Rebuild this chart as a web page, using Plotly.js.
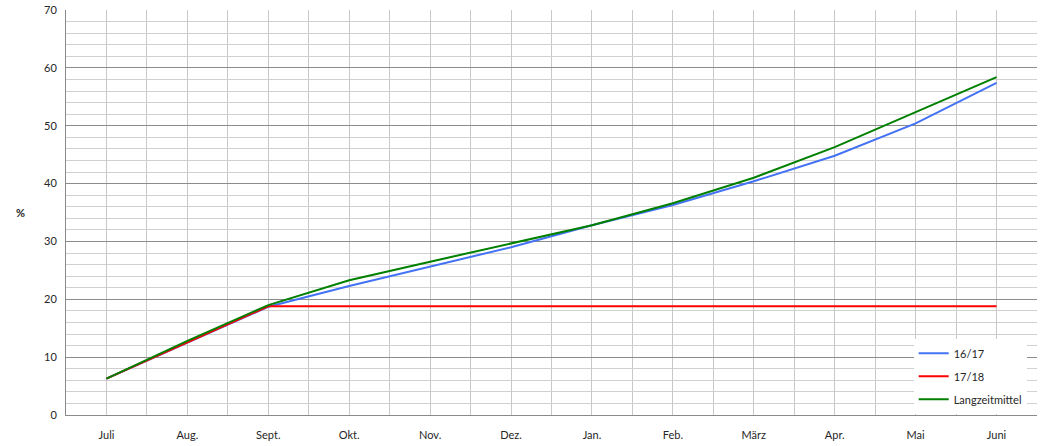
<!DOCTYPE html>
<html>
<head>
<meta charset="utf-8">
<script src="https://cdn.plot.ly/plotly-3.0.1.min.js"></script>
<style>html,body{margin:0;padding:0;background:#fff;}#chart{width:1052px;height:446px;}</style>
</head>
<body>
<div id="chart"></div>
<script>
const months = ["Juli","Aug.","Sept.","Okt.","Nov.","Dez.","Jan.","Feb.","März","Apr.","Mai","Juni"];
const s1617 = [6.3, 12.5, 18.7, 22.3, 25.6, 29.0, 32.8, 36.3, 40.4, 44.8, 50.4, 57.4];
const s1718 = [6.3, 12.5, 18.8, 18.8, 18.8, 18.8, 18.8, 18.8, 18.8, 18.8, 18.8, 18.8];
const langzeit = [6.3, 12.8, 19.0, 23.3, 26.5, 29.6, 32.8, 36.6, 41.0, 46.3, 52.4, 58.4];
const seriesNames = ["16/17","17/18","Langzeitmittel"];
const seriesColors = ["#4472f4","#ff0000","#008000"];

const idx = months.map((m,i)=>i);
const data = [s1617, s1718, langzeit].map((vals,k)=>({
  x: idx, y: vals, type:'scatter', mode:'lines', name: seriesNames[k],
  legendgroup: 'g'+k,
  line:{color: seriesColors[k], width:2}
}));

const font = {family:'Lato, "Open Sans", sans-serif', size:11, color:'#262626'};
const layout = {
  width:1052, height:446,
  margin:{l:66, r:15, t:10, b:31},
  paper_bgcolor:'#fff', plot_bgcolor:'#fff',
  font: font,
  showlegend:true,
  legend:{x:0.873, y:0.003, xanchor:'left', yanchor:'bottom', bgcolor:'#fff', borderwidth:0,
          font:font, itemwidth:30, traceorder:'grouped', tracegroupgap:4},
  xaxis:{type:'linear', range:[-0.5, 11.5], tickvals: idx, ticktext: months,
         showgrid:true, gridcolor:'#c8c8c8', gridwidth:1,
         minor:{tick0:0.5, dtick:1, showgrid:true, gridcolor:'#c8c8c8', gridwidth:1},
         showline:true, linecolor:'#8a8a8a', linewidth:1,
         ticks:'', ticklabelstandoff:10, zeroline:false, fixedrange:true},
  yaxis:{range:[0,70], dtick:10, tick0:0,
         showgrid:true, gridcolor:'#8c8c8c', gridwidth:1,
         minor:{dtick:2, tick0:0, showgrid:true, gridcolor:'#d0d0d0', gridwidth:1},
         showline:true, linecolor:'#8a8a8a', linewidth:1,
         ticks:'', ticklabelstandoff:6, zeroline:false, fixedrange:true},
  annotations:[{text:'<b>%</b>', xref:'paper', yref:'paper', x:-0.047, y:0.5, xanchor:'center', yanchor:'middle',
                showarrow:false, font:{family:font.family, size:11, color:'#262626'}}]
};
Plotly.newPlot('chart', data, layout, {displayModeBar:false, staticPlot:true});
</script>
</body>
</html>
